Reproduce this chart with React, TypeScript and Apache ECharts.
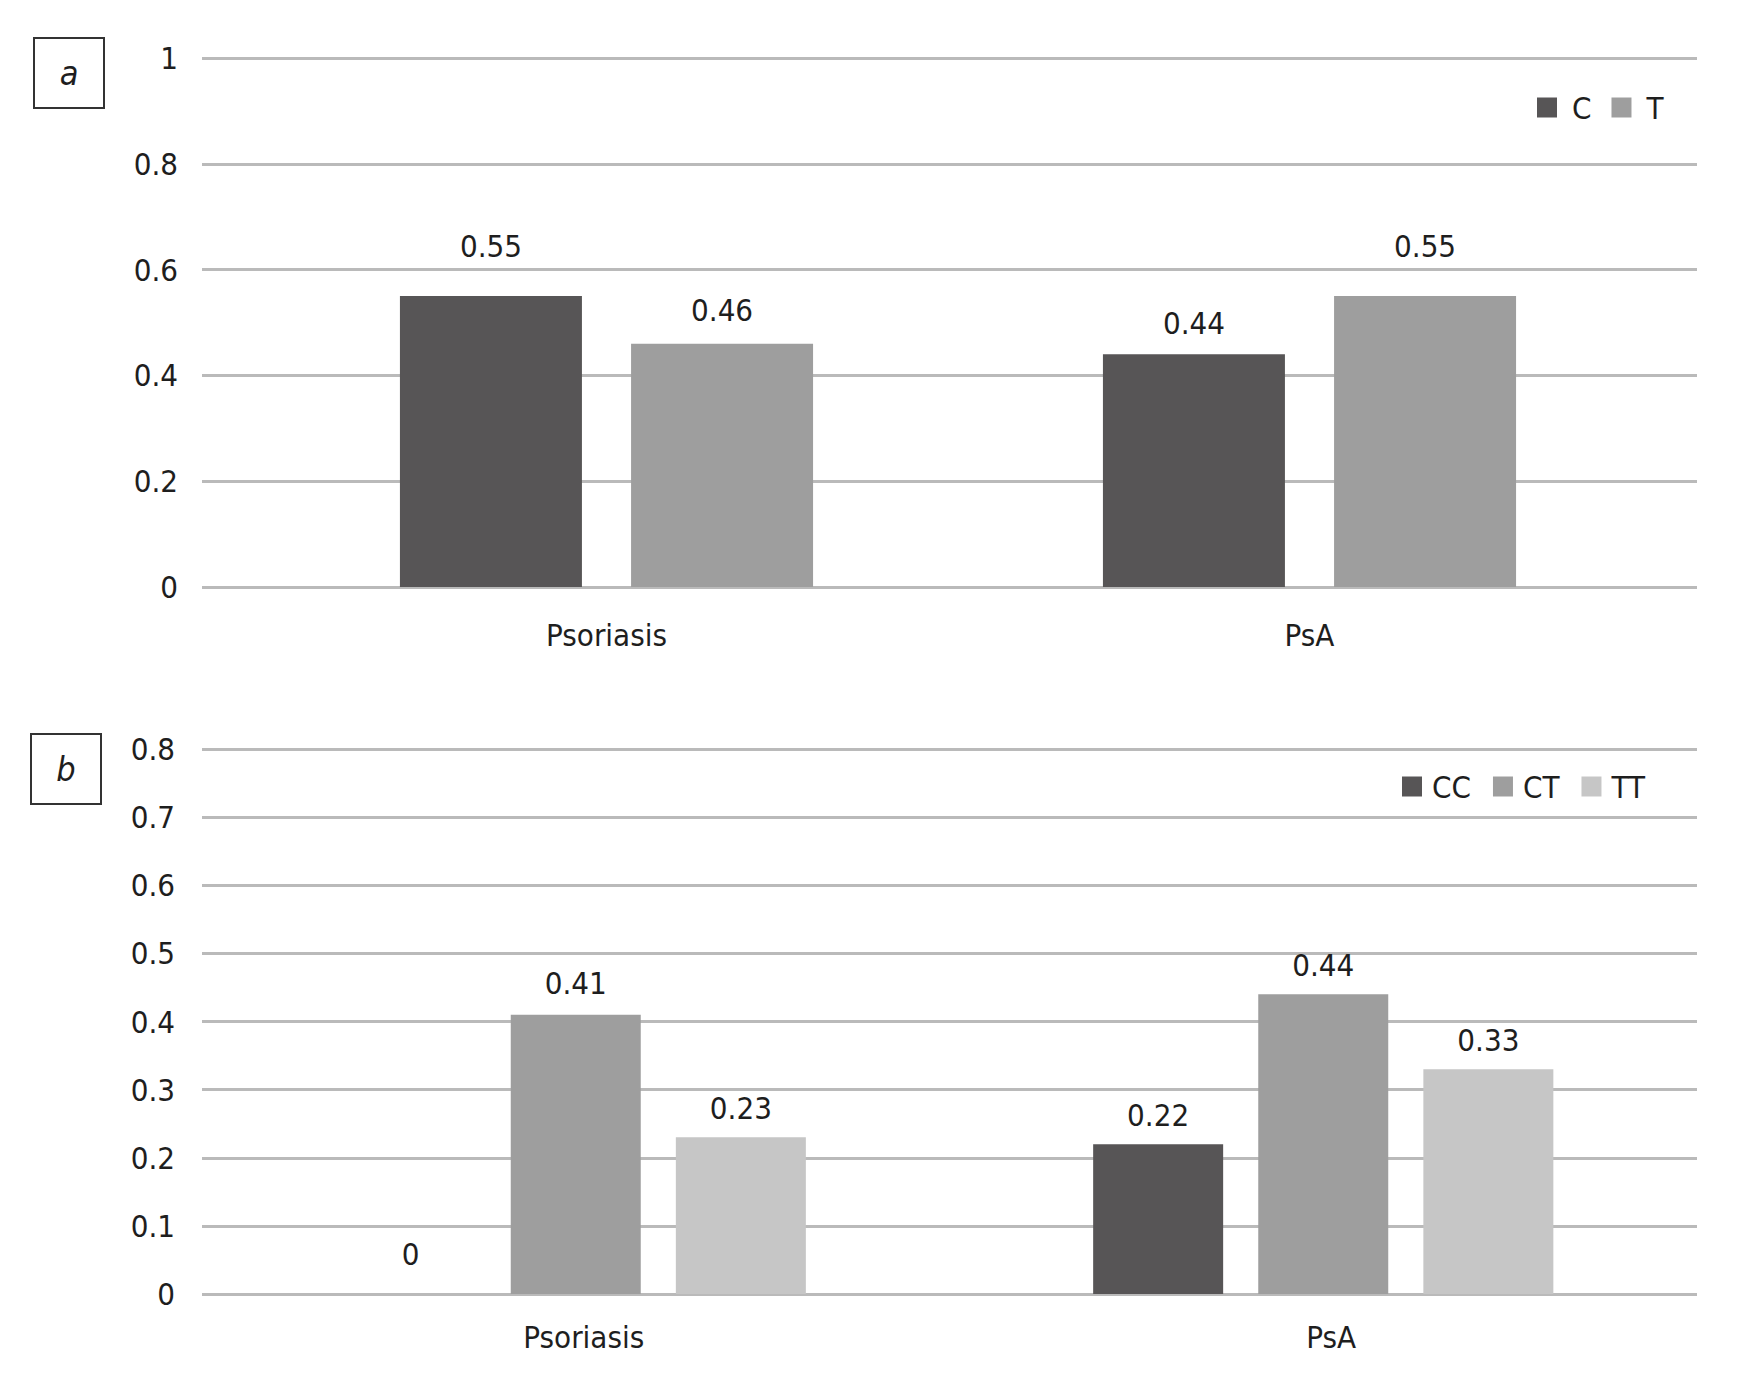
import React, { useEffect, useRef } from "react";
import * as echarts from "echarts";

const categories = ["Psoriasis", "PsA"];

// Panel a: allele frequencies
const alleleNames = ["C", "T"];
const alleleC = [0.55, 0.44];
const alleleT = [0.46, 0.55];

// Panel b: genotype frequencies
const genotypeNames = ["CC", "CT", "TT"];
const genoCC = [0, 0.22];
const genoCT = [0.41, 0.44];
const genoTT = [0.23, 0.33];

// Axis scales
const axisA = { min: 0, max: 1, interval: 0.2 };
const axisB = { min: 0, max: 0.8, interval: 0.1 };

// Style-only: distance of the value labels above the bar tops
const liftA = { C: [35, 16], T: [18, 35] };
const liftB = { CC: [25, 14], CT: [16, 14], TT: [14, 14] };

const FONT = "'Liberation Sans Narrow', 'DejaVu Sans Condensed', 'Roboto', sans-serif";
const TXT = "#1e1e1e";
const GRID_COLOR = "#bababa";
const COLORS = { dark: "#575556", mid: "#9e9e9e", light: "#c6c6c6" };
const FS = 31;

function barSeries(
  name: string,
  values: number[],
  lifts: number[],
  color: string,
  axisIdx: number,
  width: number
) {
  return {
    name,
    type: "bar",
    xAxisIndex: axisIdx,
    yAxisIndex: axisIdx,
    barWidth: width,
    barGap: "27%",
    itemStyle: { color },
    data: values.map((v, i) => ({
      value: v,
      label: { distance: lifts[i] },
    })),
    label: {
      show: true,
      position: "top",
      fontSize: FS,
      color: TXT,
      fontFamily: FONT,
      formatter: (p: any) => String(p.value),
    },
  };
}

export default function App() {
  const ref = useRef<HTMLDivElement>(null);

  useEffect(() => {
    document.body.style.margin = "0";
    if (!ref.current) return;
    const chart = echarts.init(ref.current, undefined, { renderer: "svg" });

    const catLabel = (margin: number, padLeft: number) => ({
      fontSize: FS,
      color: TXT,
      fontFamily: FONT,
      margin,
      padding: [0, 0, 0, padLeft],
    });

    const option: any = {
      animation: false,
      backgroundColor: "#ffffff",
      textStyle: { fontFamily: FONT, color: TXT },
      grid: [
        { left: 202, width: 1495, top: 58, height: 529 },
        { left: 255, width: 1406, top: 58, height: 529 },
        { left: 202, width: 1495, top: 749, height: 545 },
      ],
      xAxis: [
        { gridIndex: 0, type: "value", show: false, min: 0, max: 1 },
        {
          gridIndex: 1,
          type: "category",
          data: categories,
          axisLine: { show: false },
          axisTick: { show: false },
          axisLabel: catLabel(32, 0),
        },
        {
          gridIndex: 2,
          type: "category",
          data: categories,
          axisLine: { show: false },
          axisTick: { show: false },
          axisLabel: catLabel(27, 16),
        },
      ],
      yAxis: [
        {
          gridIndex: 0,
          type: "value",
          min: axisA.min,
          max: axisA.max,
          interval: axisA.interval,
          axisLine: { show: false },
          axisTick: { show: false },
          splitLine: { lineStyle: { color: GRID_COLOR, width: 3 } },
          axisLabel: { fontSize: FS, color: TXT, fontFamily: FONT, margin: 24 },
        },
        { gridIndex: 1, type: "value", min: axisA.min, max: axisA.max, show: false },
        {
          gridIndex: 2,
          type: "value",
          min: axisB.min,
          max: axisB.max,
          interval: axisB.interval,
          axisLine: { show: false },
          axisTick: { show: false },
          splitLine: { lineStyle: { color: GRID_COLOR, width: 3 } },
          axisLabel: { fontSize: FS, color: TXT, fontFamily: FONT, margin: 27 },
        },
      ],
      legend: [
        {
          data: alleleNames,
          left: 1537,
          top: 92,
          padding: 0,
          icon: "rect",
          itemWidth: 20,
          itemHeight: 20,
          itemGap: 20,
          textStyle: { fontSize: FS, color: TXT, fontFamily: FONT, padding: [0, 0, 0, 10] },
        },
        {
          data: genotypeNames,
          left: 1402,
          top: 771,
          padding: 0,
          icon: "rect",
          itemWidth: 20,
          itemHeight: 20,
          itemGap: 22,
          textStyle: { fontSize: FS, color: TXT, fontFamily: FONT, padding: [0, 0, 0, 5] },
        },
      ],
      graphic: [
        {
          type: "rect",
          shape: { x: 34, y: 38, width: 70, height: 70 },
          style: { fill: "none", stroke: "#333333", lineWidth: 2 },
        },
        {
          type: "text",
          x: 69,
          y: 73,
          style: {
            text: "a",
            fontSize: 34,
            fontStyle: "italic",
            fontFamily: FONT,
            fill: TXT,
            align: "center",
            verticalAlign: "middle",
          },
        },
        {
          type: "rect",
          shape: { x: 31, y: 734, width: 70, height: 70 },
          style: { fill: "none", stroke: "#333333", lineWidth: 2 },
        },
        {
          type: "text",
          x: 66,
          y: 769,
          style: {
            text: "b",
            fontSize: 34,
            fontStyle: "italic",
            fontFamily: FONT,
            fill: TXT,
            align: "center",
            verticalAlign: "middle",
          },
        },
      ],
      series: [
        barSeries(alleleNames[0], alleleC, liftA.C, COLORS.dark, 1, 182),
        barSeries(alleleNames[1], alleleT, liftA.T, COLORS.mid, 1, 182),
        barSeries(genotypeNames[0], genoCC, liftB.CC, COLORS.dark, 2, 130),
        barSeries(genotypeNames[1], genoCT, liftB.CT, COLORS.mid, 2, 130),
        barSeries(genotypeNames[2], genoTT, liftB.TT, COLORS.light, 2, 130),
      ],
    };

    chart.setOption(option);
    return () => chart.dispose();
  }, []);

  return <div ref={ref} style={{ width: 1748, height: 1398 }} />;
}
